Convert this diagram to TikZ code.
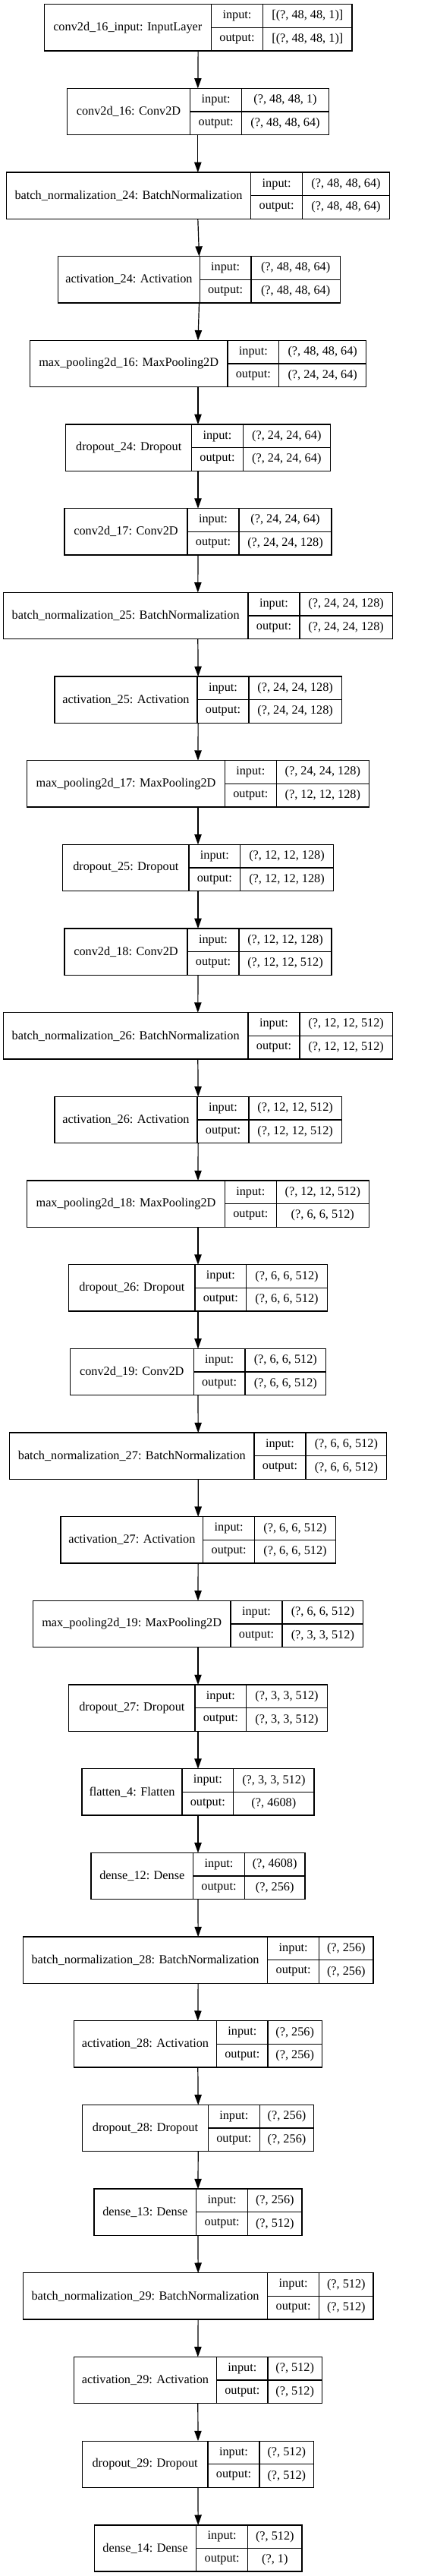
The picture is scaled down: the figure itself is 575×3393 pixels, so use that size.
\documentclass[tikz,border=0pt]{standalone}
\usepackage{fontspec}
\setmainfont{Liberation Serif}
\usetikzlibrary{arrows.meta}
\tikzset{
  box/.style={draw=black, line width=1pt, inner sep=0pt, outer sep=0pt, minimum height=45.975pt},
  cell/.style={inner sep=0pt, font=\fontsize{12.2pt}{14pt}\selectfont, text=black},
  sep/.style={draw=black, line width=1pt},
  arr/.style={draw=black, line width=0.9pt, -{Triangle[length=10pt,width=7pt]}}
}
% #1 name, #2 index, #3 L, #4 D1, #5 D2, #6 R, #7 label, #8 in, #9 out
\newcommand\klayer[9]{%
  \pgfmathsetmacro\yt{5.7+110.67*#2}%
  \pgfmathsetmacro\yb{\yt+61.3}%
  \pgfmathsetmacro\ym{\yt+30.65}%
  \node[box, minimum width={(#6-#3)*0.75pt}] (#1) at ({(#3+#6)/2},{\ym}) {};
  \draw[sep] (#4,\yt) -- (#4,\yb);
  \draw[sep] (#5,\yt) -- (#5,\yb);
  \draw[sep] (#4,\ym) -- (#6,\ym);
  \node[cell] (#1-lbl) at ({(#3+#4)/2},{\ym}) {#7};
  \node[cell] (#1-ik) at ({(#4+#5)/2},{(\yt+\ym)/2}) {input:};
  \node[cell] (#1-ok) at ({(#4+#5)/2},{(\ym+\yb)/2}) {output:};
  \node[cell] (#1-iv) at ({(#5+#6)/2},{(\yt+\ym)/2}) {#8};
  \node[cell] (#1-ov) at ({(#5+#6)/2},{(\ym+\yb)/2}) {#9};
}
\begin{document}
\begin{tikzpicture}[x=0.75pt,y=-0.75pt]
\useasboundingbox[fill=white] (0,0) rectangle (575,3393);
\klayer{n0}{0}{58.3}{278.3}{346.7}{464}{conv2d\_16\_input: InputLayer}{[(?, 48, 48, 1)]}{[(?, 48, 48, 1)]}
\klayer{n1}{1}{88.3}{250.7}{318.7}{433.3}{conv2d\_16: Conv2D}{(?, 48, 48, 1)}{(?, 48, 48, 64)}
\klayer{n2}{2}{8.3}{330.7}{398.7}{513.3}{batch\_normalization\_24: BatchNormalization}{(?, 48, 48, 64)}{(?, 48, 48, 64)}
\klayer{n3}{3}{76.7}{263.3}{331}{448.3}{activation\_24: Activation}{(?, 48, 48, 64)}{(?, 48, 48, 64)}
\klayer{n4}{4}{39.3}{300}{367.7}{482.7}{max\_pooling2d\_16: MaxPooling2D}{(?, 48, 48, 64)}{(?, 24, 24, 64)}
\klayer{n5}{5}{86.7}{252.7}{320.3}{435.3}{dropout\_24: Dropout}{(?, 24, 24, 64)}{(?, 24, 24, 64)}
\klayer{n6}{6}{85}{247}{315}{437}{conv2d\_17: Conv2D}{(?, 24, 24, 64)}{(?, 24, 24, 128)}
\klayer{n7}{7}{4.3}{327}{395}{517.3}{batch\_normalization\_25: BatchNormalization}{(?, 24, 24, 128)}{(?, 24, 24, 128)}
\klayer{n8}{8}{72}{260}{328}{450.3}{activation\_25: Activation}{(?, 24, 24, 128)}{(?, 24, 24, 128)}
\klayer{n9}{9}{35.7}{296.3}{364.3}{486.3}{max\_pooling2d\_17: MaxPooling2D}{(?, 24, 24, 128)}{(?, 12, 12, 128)}
\klayer{n10}{10}{82.7}{249}{316.7}{439.3}{dropout\_25: Dropout}{(?, 12, 12, 128)}{(?, 12, 12, 128)}
\klayer{n11}{11}{85}{247}{315}{437}{conv2d\_18: Conv2D}{(?, 12, 12, 128)}{(?, 12, 12, 512)}
\klayer{n12}{12}{4.3}{327}{395}{517.3}{batch\_normalization\_26: BatchNormalization}{(?, 12, 12, 512)}{(?, 12, 12, 512)}
\klayer{n13}{13}{72}{260}{328}{450.3}{activation\_26: Activation}{(?, 12, 12, 512)}{(?, 12, 12, 512)}
\klayer{n14}{14}{35.7}{296.3}{364.3}{486.3}{max\_pooling2d\_18: MaxPooling2D}{(?, 12, 12, 512)}{(?, 6, 6, 512)}
\klayer{n15}{15}{90.7}{257}{324.7}{431.3}{dropout\_26: Dropout}{(?, 6, 6, 512)}{(?, 6, 6, 512)}
\klayer{n16}{16}{92.3}{255.3}{323}{429.7}{conv2d\_19: Conv2D}{(?, 6, 6, 512)}{(?, 6, 6, 512)}
\klayer{n17}{17}{12.7}{335}{403}{509.7}{batch\_normalization\_27: BatchNormalization}{(?, 6, 6, 512)}{(?, 6, 6, 512)}
\klayer{n18}{18}{80}{267.7}{335.7}{442.3}{activation\_27: Activation}{(?, 6, 6, 512)}{(?, 6, 6, 512)}
\klayer{n19}{19}{43.3}{304}{372}{478.7}{max\_pooling2d\_19: MaxPooling2D}{(?, 6, 6, 512)}{(?, 3, 3, 512)}
\klayer{n20}{20}{90.7}{257}{324.7}{431.3}{dropout\_27: Dropout}{(?, 3, 3, 512)}{(?, 3, 3, 512)}
\klayer{n21}{21}{108}{240}{307.7}{414}{flatten\_4: Flatten}{(?, 3, 3, 512)}{(?, 4608)}
\klayer{n22}{22}{120}{254.7}{322.3}{402}{dense\_12: Dense}{(?, 4608)}{(?, 256)}
\klayer{n23}{23}{30.3}{352.7}{420.7}{492}{batch\_normalization\_28: BatchNormalization}{(?, 256)}{(?, 256)}
\klayer{n24}{24}{97.3}{285.7}{353}{424.3}{activation\_28: Activation}{(?, 256)}{(?, 256)}
\klayer{n25}{25}{108.7}{274.3}{342.3}{413.7}{dropout\_28: Dropout}{(?, 256)}{(?, 256)}
\klayer{n26}{26}{124}{258.7}{326.7}{398}{dense\_13: Dense}{(?, 256)}{(?, 512)}
\klayer{n27}{27}{30.3}{352.7}{420.7}{492}{batch\_normalization\_29: BatchNormalization}{(?, 512)}{(?, 512)}
\klayer{n28}{28}{97.3}{285.7}{353}{424.3}{activation\_29: Activation}{(?, 512)}{(?, 512)}
\klayer{n29}{29}{108.3}{274}{342}{413.7}{dropout\_29: Dropout}{(?, 512)}{(?, 512)}
\klayer{n30}{30}{124.3}{258.7}{326.7}{398}{dense\_14: Dense}{(?, 512)}{(?, 1)}
\foreach \i [count=\j from 1] in {0,...,29} {
  \draw[arr] (n\i.south) -- (n\j.north);
}
\end{tikzpicture}
\end{document}
